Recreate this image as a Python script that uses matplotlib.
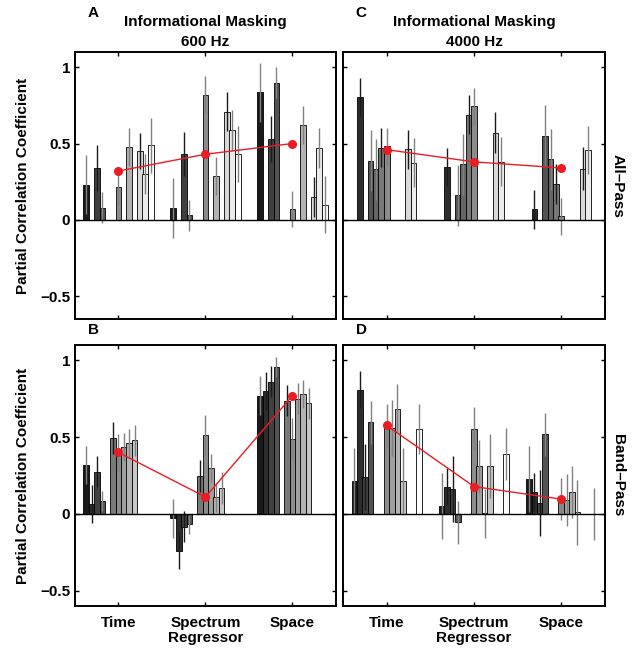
import numpy as np
import matplotlib
matplotlib.use("Agg")
import matplotlib.pyplot as plt

plt.rcParams["font.family"] = ["Liberation Sans", "DejaVu Sans"]
plt.rcParams["font.weight"] = "bold"

groups = ["Time", "Spectrum", "Space"]
n_reg = 13

# partial correlation per regressor (13 per group), rows = Time, Spectrum, Space
a_vals = [
    [0.23, 0, 0.34, 0.08, 0, 0, 0.215, 0, 0.48, 0, 0.45, 0.30, 0.49],
    [0.077, 0, 0.43, 0.03, 0, 0, 0.82, 0, 0.29, 0, 0.71, 0.59, 0.43],
    [0.835, 0, 0.53, 0.90, 0, 0, 0.07, 0, 0.62, 0, 0.15, 0.47, 0.10],
]
a_errs = [
    [0.195, 0, 0.15, 0.10, 0, 0, 0.115, 0, 0.125, 0, 0.12, 0.13, 0.18],
    [0.195, 0, 0.145, 0.10, 0, 0, 0.12, 0, 0.125, 0, 0.13, 0.13, 0.185],
    [0.195, 0, 0.15, 0.10, 0, 0, 0.12, 0, 0.125, 0, 0.13, 0.13, 0.185],
]
a_overall = [0.32, 0.43, 0.50]

c_vals = [
    [0, 0.805, 0, 0.386, 0.331, 0.474, 0.482, 0, 0, 0, 0.462, 0.375, 0],
    [0, 0.346, 0, 0.16, 0.364, 0.69, 0.743, 0, 0, 0, 0.572, 0.382, 0],
    [0, 0.068, 0, 0.55, 0.397, 0.234, 0.022, 0, 0, 0, 0.335, 0.458, 0],
]
c_errs = [
    [0, 0.125, 0, 0.2, 0.2, 0.125, 0.12, 0, 0, 0, 0.13, 0.16, 0],
    [0, 0.125, 0, 0.2, 0.2, 0.125, 0.12, 0, 0, 0, 0.135, 0.16, 0],
    [0, 0.125, 0, 0.2, 0.2, 0.13, 0.12, 0, 0, 0, 0.14, 0.16, 0],
]
c_overall = [0.46, 0.38, 0.34]

b_vals = [
    [0.32, 0.065, 0.274, 0.085, 0, 0.494, 0.40, 0.435, 0.46, 0.48, 0, 0, 0],
    [-0.028, -0.241, -0.083, -0.068, 0, 0.248, 0.515, 0.298, 0.109, 0.167, 0, 0, 0],
    [0.77, 0.80, 0.86, 0.955, 0, 0.737, 0.49, 0.75, 0.78, 0.72, 0, 0, 0],
]
b_errs = [
    [0.125, 0.125, 0.10, 0.065, 0, 0.105, 0.12, 0.09, 0.095, 0.10, 0, 0, 0],
    [0.128, 0.12, 0.10, 0.06, 0, 0.105, 0.13, 0.09, 0.095, 0.105, 0, 0, 0],
    [0.125, 0.125, 0.10, 0.065, 0, 0.10, 0.135, 0.10, 0.09, 0.10, 0, 0, 0],
]
b_overall = [0.40, 0.11, 0.77]

d_vals = [
    [0.217, 0.809, 0.24, 0.598, 0, 0, 0.576, 0.56, 0.685, 0.217, 0, 0, 0.552],
    [0.053, 0.178, 0.163, -0.054, 0, 0, 0.554, 0.309, 0.005, 0.313, 0, 0, 0.389],
    [0.226, 0.141, 0.07, 0.52, 0, 0, 0.096, 0.091, 0.141, 0.01, 0, 0, 0.0],
]
d_errs = [
    [0.21, 0.12, 0.215, 0.14, 0, 0, 0.14, 0.18, 0.16, 0.21, 0, 0, 0.165],
    [0.215, 0.12, 0.215, 0.14, 0, 0, 0.14, 0.17, 0.16, 0.21, 0, 0, 0.17],
    [0.213, 0.124, 0.215, 0.14, 0, 0, 0.136, 0.17, 0.17, 0.21, 0, 0, 0.17],
]
d_overall = [0.576, 0.178, 0.096]

panels = [
    ("A", "Informational Masking\n600 Hz", a_vals, a_errs, a_overall),
    ("C", "Informational Masking\n4000 Hz", c_vals, c_errs, c_overall),
    ("B", None, b_vals, b_errs, b_overall),
    ("D", None, d_vals, d_errs, d_overall),
]

W, H = 633, 651
fig = plt.figure(figsize=(W / 100, H / 100), dpi=100)

# axes boxes in pixels: left, top, right, bottom
boxes = [(75, 52, 336, 319), (343, 52, 605, 319),
         (75, 345, 336, 606), (343, 345, 605, 606)]
ylims = [(-0.65, 1.1), (-0.65, 1.1), (-0.6, 1.1), (-0.6, 1.1)]

bar_w = 0.8 / n_reg
offsets = -0.4 + bar_w * (np.arange(n_reg) + 0.5)
shades = [str(0.1 + 0.9 * i / (n_reg - 1)) for i in range(n_reg)]
err_dark = {1, 2, 5, 10}

for k, (letter, title, vals, errs, overall) in enumerate(panels):
    l, t, r, b = boxes[k]
    ax = fig.add_axes([l / W, 1 - b / H, (r - l) / W, (b - t) / H])
    vals = np.array(vals)
    errs = np.array(errs)
    for g in range(len(groups)):
        x = g + 1 + offsets
        ax.bar(x, vals[g], width=bar_w * 1.08, color=shades, edgecolor="k",
               linewidth=0.6, zorder=2)
        for i in range(n_reg):
            if errs[g, i] > 0:
                ax.vlines(x[i], vals[g, i] - errs[g, i], vals[g, i] + errs[g, i],
                          colors="0.1" if i in err_dark else "0.5",
                          linewidth=1.0, zorder=3)
    ax.axhline(0, color="k", linewidth=1.0, zorder=4)
    ax.plot([1, 2, 3], overall, "-o", color="#ec1c24", linewidth=1.0,
            markersize=5.5, zorder=5)

    ax.set_xlim(0.5, 3.5)
    ax.set_ylim(*ylims[k])
    ax.set_xticks([1, 2, 3])
    ax.set_yticks([-0.5, 0, 0.5, 1])
    ax.tick_params(direction="in", length=3, width=1, top=True, right=True,
                   labelsize=11)
    ax.tick_params(axis="x", pad=7)
    for s in ax.spines.values():
        s.set_linewidth(1.4)

    if k % 2 == 0:
        ax.set_yticklabels(["\u22120.5", "0", "0.5", "1"])
        ax.set_ylabel("Partial Correlation Coefficient", fontsize=11,
                      fontweight="bold", labelpad=7)
    else:
        ax.set_yticklabels([])
    if k >= 2:
        ax.set_xticklabels(groups, fontsize=11, fontweight="bold")
        ax.set_xlabel("Regressor", fontsize=11, fontweight="bold", labelpad=1)
    else:
        ax.set_xticklabels([])

    if title:
        ax.set_title(title, fontsize=11, fontweight="bold", pad=4,
                     linespacing=1.55)
    ax.text(0.07, 1.03 if k >= 2 else 1.12, letter, transform=ax.transAxes,
            fontsize=11, fontweight="bold", ha="center", va="bottom")

    if k == 1:
        ax.text(1.05, 0.5, "All\u2013Pass", transform=ax.transAxes,
                rotation=-90, ha="center", va="center", fontsize=11,
                fontweight="bold")
    if k == 3:
        ax.text(1.05, 0.5, "Band\u2013Pass", transform=ax.transAxes,
                rotation=-90, ha="center", va="center", fontsize=11,
                fontweight="bold")

fig.savefig("out.png", dpi=100)
